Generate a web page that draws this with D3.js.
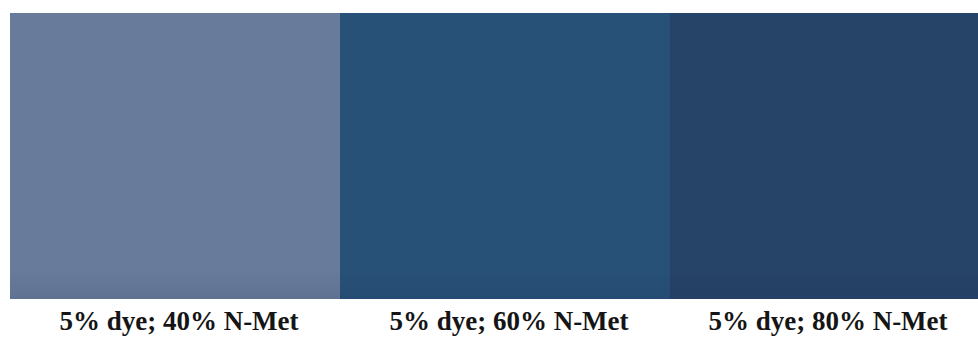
<!DOCTYPE html>
<html>
<head>
<meta charset="utf-8">
<script src="https://cdn.jsdelivr.net/npm/d3@7"></script>
<style>
  html, body { margin: 0; padding: 0; background: #ffffff; }
  svg { display: block; }
</style>
</head>
<body>
<svg id="chart" width="978" height="338"></svg>
<script>
// Data
const categories = ["5% dye; 40% N-Met", "5% dye; 60% N-Met", "5% dye; 80% N-Met"];
const swatchColors = ["#687b9b", "#285178", "#264368"];

const W = 978, H = 338;
const margin = { left: 10, top: 13, bottom: 39 };
// the third swatch runs off the right edge of the picture
const bandW = 330;

const svg = d3.select("#chart");

const x = d3.scaleBand()
  .domain(categories)
  .range([margin.left, margin.left + bandW * categories.length])
  .paddingInner(0)
  .paddingOuter(0);

const color = d3.scaleOrdinal().domain(categories).range(swatchColors);

const y0 = margin.top, y1 = H - margin.bottom;

const defs = svg.append("defs");
const grad = defs.append("linearGradient")
  .attr("id", "shade").attr("x1", 0).attr("y1", 0).attr("x2", 0).attr("y2", 1);
grad.append("stop").attr("offset", "0%").attr("stop-color", "#000").attr("stop-opacity", 0);
grad.append("stop").attr("offset", "90%").attr("stop-color", "#000").attr("stop-opacity", 0);
grad.append("stop").attr("offset", "97%").attr("stop-color", "#0a1a40").attr("stop-opacity", 0.06);
grad.append("stop").attr("offset", "100%").attr("stop-color", "#0a1a40").attr("stop-opacity", 0.1);

svg.append("g").selectAll("rect.swatch")
  .data(categories)
  .join("rect")
  .attr("class", "swatch")
  .attr("x", d => x(d))
  .attr("y", y0)
  .attr("width", d => Math.min(x.bandwidth(), W - x(d)))
  .attr("height", y1 - y0)
  .attr("fill", d => color(d));

svg.append("g").selectAll("rect.shade")
  .data(categories)
  .join("rect")
  .attr("class", "shade")
  .attr("x", d => x(d))
  .attr("y", y0)
  .attr("width", d => Math.min(x.bandwidth(), W - x(d)))
  .attr("height", y1 - y0)
  .attr("fill", "url(#shade)");

// labels centred under the visible part of each swatch
svg.append("g").selectAll("text")
  .data(categories)
  .join("text")
  .attr("x", d => (x(d) + Math.min(x(d) + x.bandwidth(), W)) / 2 + 4)
  .attr("y", y1 + 31)
  .attr("text-anchor", "middle")
  .attr("font-family", "'Liberation Serif', 'Times New Roman', serif")
  .attr("font-weight", "bold")
  .attr("font-size", 27)
  .attr("fill", "#151515")
  .text(d => d);
</script>
</body>
</html>
